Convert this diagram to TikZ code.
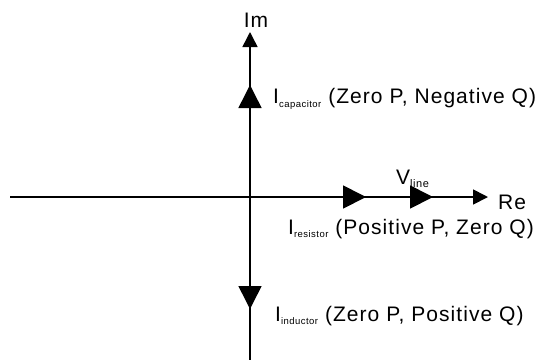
\documentclass[tikz,border=0pt]{standalone}
\usepackage{fontspec}
\setmainfont[LetterSpace=5]{Liberation Sans}
\usetikzlibrary{arrows.meta}
\newcommand{\subtxt}[1]{\raisebox{-3.5pt}{\fontsize{9.5}{10}\selectfont #1}}
\tikzset{
  axisline/.style={line width=1.8pt,-{Triangle[length=15pt,width=15pt]}},
  phasor/.style={line width=1.8pt,-{Triangle[length=23pt,width=23pt]}},
  lab/.style={inner sep=0pt,anchor=west,font=\fontsize{21}{24}\selectfont}
}
\begin{document}
\begin{tikzpicture}[x=1pt,y=-1pt]
\useasboundingbox (0,0) rectangle (548,360);
\coordinate (O) at (250,197);
\coordinate (left) at (10,197);
\coordinate (right) at (488,197);
\coordinate (top) at (250,32);
\coordinate (bottom) at (250,360);
\coordinate (cap) at (250,85);
\coordinate (res) at (366,197);
\coordinate (vline) at (433,197);
\coordinate (ind) at (250,309);
\draw[line width=1.5pt] (O) -- (bottom);
\draw[axisline] (left) -- (right);
\draw[axisline,line width=1.5pt] (O) -- (top);
\draw[phasor,line width=1.5pt] (O) -- (cap);
\draw[phasor] (O) -- (res);
\draw[phasor] (O) -- (vline);
\draw[phasor,line width=1.5pt] (O) -- (ind);
\node[lab,anchor=center] (im) at (256,20) {Im};
\node[lab] (re) at (498,202) {Re};
\node[lab] (vl) at (396,179) {V\raisebox{-3.5pt}{\fontsize{11}{12}\selectfont line}};
\node[lab] (capl) at (273,99) {I\subtxt{capacitor} (Zero P, Negative Q)};
\node[lab] (resl) at (288,229) {I\subtxt{resistor} (Positive P, Zero Q)};
\node[lab] (indl) at (275,316) {I\subtxt{inductor} (Zero P, Positive Q)};
\end{tikzpicture}
\end{document}
